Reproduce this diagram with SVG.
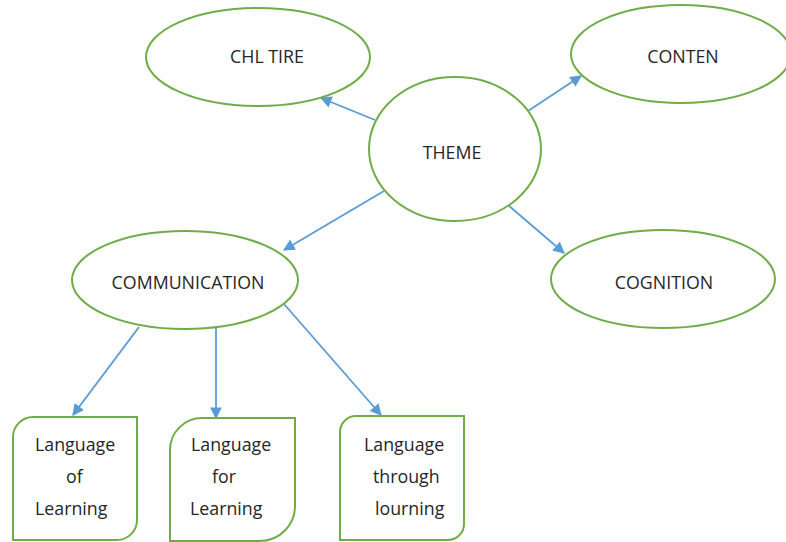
<svg xmlns="http://www.w3.org/2000/svg" width="786" height="542" viewBox="0 0 786 542">
<style>
.n{fill:#fff;stroke:#70AD47;stroke-width:2}
.t{font-family:"Open Sans","Noto Sans",sans-serif;font-size:17.8px;fill:#262626}
.c{stroke:#5B9BD5;stroke-width:1.8;fill:none;marker-end:url(#ah)}
</style>
<defs>
<marker id="ah" viewBox="0 0 10 10" refX="9" refY="5" markerWidth="6.5" markerHeight="6.5" orient="auto" markerUnits="strokeWidth">
<path d="M0,0 L10,5 L0,10 z" fill="#5B9BD5"/>
</marker>
</defs>
<rect width="786" height="542" fill="#fff"/>
<g id="connectors">
<line class="c" x1="375" y1="120" x2="321" y2="98"/>
<line class="c" x1="528" y1="111" x2="581" y2="76"/>
<line class="c" x1="508" y1="205" x2="564" y2="253"/>
<line class="c" x1="384" y1="191" x2="284" y2="250"/>
<line class="c" x1="139" y1="327" x2="73" y2="415"/>
<line class="c" x1="216" y1="327" x2="216" y2="418"/>
<line class="c" x1="284" y1="304" x2="381" y2="415"/>
</g>
<g id="chl">
<ellipse class="n" cx="258" cy="57" rx="112" ry="49"/>
<text class="t" x="267" y="63" text-anchor="middle">CHL TIRE</text>
</g>
<g id="theme">
<ellipse class="n" cx="455" cy="149" rx="86" ry="72"/>
<text class="t" x="452" y="159" text-anchor="middle">THEME</text>
</g>
<g id="conten">
<ellipse class="n" cx="681" cy="54" rx="110" ry="49"/>
<text class="t" x="683" y="63" text-anchor="middle">CONTEN</text>
</g>
<g id="cognition">
<ellipse class="n" cx="663" cy="279" rx="112" ry="49"/>
<text class="t" x="664" y="289" text-anchor="middle">COGNITION</text>
</g>
<g id="communication">
<ellipse class="n" cx="185" cy="280" rx="113" ry="49"/>
<text class="t" x="188" y="289" text-anchor="middle">COMMUNICATION</text>
</g>
<g id="box1">
<path class="n" d="M33,417 H137 V520 A20,20 0 0 1 117,540 H13 V437 A20,20 0 0 1 33,417 Z"/>
<text class="t" x="35" y="451">Language</text>
<text class="t" x="66" y="483">of</text>
<text class="t" x="35" y="515">Learning</text>
</g>
<g id="box2">
<path class="n" d="M202,418 H295 V506 A35,35 0 0 1 260,541 H170 V450 A32,32 0 0 1 202,418 Z"/>
<text class="t" x="191" y="451">Language</text>
<text class="t" x="212" y="483">for</text>
<text class="t" x="190" y="515">Learning</text>
</g>
<g id="box3">
<path class="n" d="M356,416 H464 V524 A16,16 0 0 1 448,540 H340 V432 A16,16 0 0 1 356,416 Z"/>
<text class="t" x="364" y="451">Language</text>
<text class="t" x="373" y="483">through</text>
<text class="t" x="375" y="515">lourning</text>
</g>
</svg>
